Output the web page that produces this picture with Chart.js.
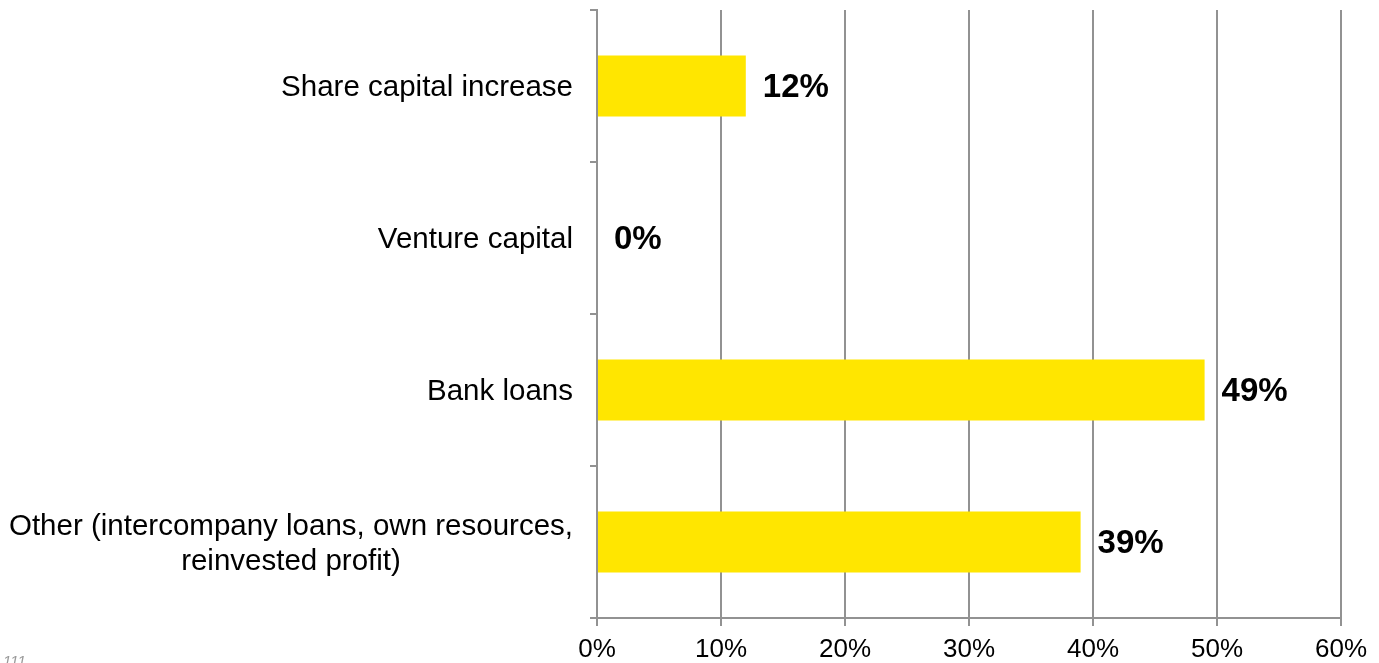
<!DOCTYPE html>
<html>
<head>
<meta charset="utf-8">
<script src="https://cdn.jsdelivr.net/npm/chart.js@4"></script>
<style>
    html, body { margin: 0; padding: 0; background: #fff; }
    #wrap { position: relative; width: 1379px; height: 663px; overflow: hidden; }
    #page-no { position: absolute; left: 3px; top: 652px; font: italic 15px 'Liberation Sans', Arial, sans-serif; color: #9a9a9a; }
</style>
</head>
<body>
<div id="wrap">
    <canvas id="fundingChart" width="1379" height="663"></canvas>
    <div id="page-no">111</div>
</div>
<script>
// Sources of funding (share of respondents, %)
const categories = [
    ['Share capital increase'],
    ['Venture capital'],
    ['Bank loans'],
    ['Other (intercompany loans, own resources,', 'reinvested profit)']
];
const shares = [12, 0, 49, 39];
const xTicks = [0, 10, 20, 30, 40, 50, 60];

const FONT = "'Liberation Sans', Arial, sans-serif";
const GRID = '#929292';

// Category labels: block right-aligned to the axis, lines centred inside the block
const categoryLabels = {
    id: 'categoryLabels',
    afterDraw(chart) {
        const { ctx, scales: { y } } = chart;
        const right = y.right - 24;
        const lineH = 35;
        ctx.save();
        ctx.font = '29.5px ' + FONT;
        ctx.fillStyle = '#000';
        ctx.textAlign = 'center';
        ctx.textBaseline = 'middle';
        categories.forEach((lines, i) => {
            const widest = Math.max(...lines.map(l => ctx.measureText(l).width));
            const cx = right - widest / 2;
            const cy = y.getPixelForValue(i) + 2;
            const top = cy - (lines.length - 1) * lineH / 2;
            lines.forEach((l, k) => ctx.fillText(l, cx, top + k * lineH));
        });
        ctx.restore();
    }
};

// Value labels at the end of each bar
const valueLabels = {
    id: 'valueLabels',
    afterDatasetsDraw(chart) {
        const { ctx } = chart;
        const meta = chart.getDatasetMeta(0);
        ctx.save();
        ctx.font = 'bold 33px ' + FONT;
        ctx.fillStyle = '#000';
        ctx.textAlign = 'left';
        ctx.textBaseline = 'middle';
        meta.data.forEach((bar, i) => {
            ctx.fillText(shares[i] + '%', bar.x + 17, bar.y + 2);
        });
        ctx.restore();
    }
};

new Chart(document.getElementById('fundingChart'), {
    type: 'bar',
    data: {
        labels: categories.map(c => c.join(' ')),
        datasets: [{
            data: shares,
            backgroundColor: '#ffe600',
            borderWidth: 0,
            categoryPercentage: 1,
            barPercentage: 0.4
        }]
    },
    options: {
        indexAxis: 'y',
        responsive: false,
        animation: false,
        layout: { padding: { top: 10, right: 38, left: 0, bottom: 0 } },
        plugins: { legend: { display: false }, tooltip: { enabled: false } },
        scales: {
            x: {
                min: 0,
                max: 60,
                afterBuildTicks: scale => { scale.ticks = xTicks.map(v => ({ value: v })); },
                afterFit: scale => { scale.height = 45; },
                grid: { color: GRID, lineWidth: 2, tickLength: 8, drawTicks: true },
                border: { color: GRID, width: 2 },
                ticks: {
                    color: '#000',
                    padding: 8,
                    font: { family: FONT, size: 26 },
                    callback: v => v + '%'
                }
            },
            y: {
                afterFit: scale => { scale.width = 597; },
                grid: { drawOnChartArea: false, color: GRID, lineWidth: 2, tickLength: 7, offset: true },
                border: { color: GRID, width: 2 },
                ticks: { display: false }
            }
        }
    },
    plugins: [categoryLabels, valueLabels]
});
</script>
</body>
</html>
